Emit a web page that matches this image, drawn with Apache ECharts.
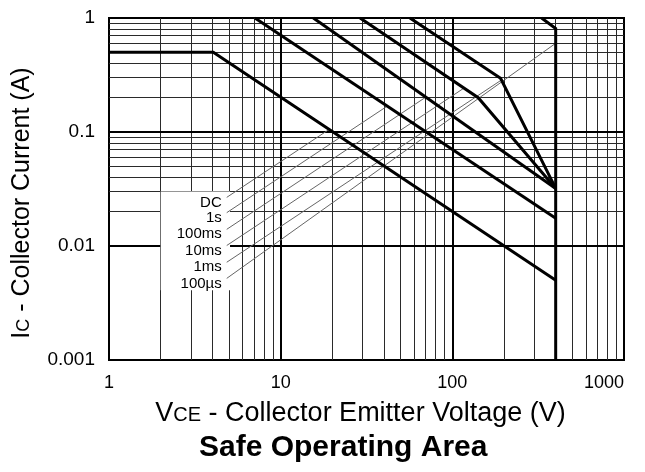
<!DOCTYPE html>
<html><head><meta charset="utf-8">
<script src="https://cdn.jsdelivr.net/npm/echarts@6/dist/echarts.min.js"></script>
<style>html,body{margin:0;padding:0;background:#fff}#c{width:645px;height:472px}</style>
</head><body><div id="c"></div>
<script>
// ---- data ----
const xTickLabels = ['1', '10', '100', '1000'];
const yTickLabels = ['0.001', '0.01', '0.1', '1'];
const xMinor = [2,3,4,5,6,7,8,9,20,30,40,50,60,70,80,90,200,300,400,500,600,700,800,900];
const xMajor = [10, 100];
const yMinor = [0.002,0.003,0.004,0.005,0.006,0.007,0.008,0.009,0.02,0.03,0.04,0.05,0.06,0.07,0.08,0.09,0.2,0.3,0.4,0.5,0.6,0.7,0.8,0.9];
const yMajor = [0.01, 0.1];

const curveNames = ['DC', '1s', '100ms', '10ms', '1ms', '100µs'];
const curveDC    = [[1, 0.5], [4.05, 0.5], [400, 0.005]];
const curve1s    = [[7.08, 1], [400, 0.0175]];
const curve100ms = [[15.5, 1], [400, 0.032]];
const curve10ms  = [[29, 1], [141.5, 0.2], [400, 0.032]];
const curve1ms   = [[56.6, 1], [191, 0.296], [400, 0.032]];
const curve100us = [[331, 1], [400, 0.81], [400, 0.001]];
const curves = [curveDC, curve1s, curve100ms, curve10ms, curve1ms, curve100us];

// leader lines (label anchor -> curve)
const leaderStart = [[4.85, 0.0267], [4.85, 0.0196], [4.85, 0.014], [4.85, 0.0101], [4.85, 0.0072], [4.85, 0.0052]];
const leaderEnd   = [[19.1, 0.105], [41.6, 0.168], [70, 0.202], [118, 0.245], [196, 0.29], [400, 0.6]];

// white box behind the labels
const labelBoxX = [2, 5.07];
const labelBoxY = [0.0041, 0.030];

// ---- chart ----
const FONT = '"Liberation Sans", Arial, sans-serif';
const chart = echarts.init(document.getElementById('c'), null, {renderer: 'canvas'});

const gridLines = [];
xMinor.forEach(v => gridLines.push({xAxis: v, lineStyle: {color: '#2a2a2a', width: 1, type: 'solid'}}));
yMinor.forEach(v => gridLines.push({yAxis: v, lineStyle: {color: '#2a2a2a', width: 1, type: 'solid'}}));
xMajor.forEach(v => gridLines.push({xAxis: v, lineStyle: {color: '#000', width: 2, type: 'solid'}}));
yMajor.forEach(v => gridLines.push({yAxis: v, lineStyle: {color: '#000', width: 2, type: 'solid'}}));

const series = [];
series.push({
  type: 'line', data: [], z: 1, silent: true,
  markLine: {silent: true, z: 1, symbol: ['none', 'none'], label: {show: false}, animation: false,
    lineStyle: {type: 'solid'}, emphasis: {disabled: true}, data: gridLines}
});
series.push({
  type: 'line', data: [], z: 2, silent: true,
  markArea: {silent: true, z: 2, itemStyle: {color: '#fff', opacity: 1, borderWidth: 0}, label: {show: false},
    emphasis: {disabled: true},
    data: [[{coord: [labelBoxX[0], labelBoxY[1]]}, {coord: [labelBoxX[1], labelBoxY[0]]}]]}
});
leaderStart.forEach((s, i) => {
  series.push({
    type: 'line', z: 3, silent: true,
    data: [s, leaderEnd[i]],
    symbol: 'circle', symbolSize: 0, showSymbol: true,
    lineStyle: {color: '#666', width: 1},
    itemStyle: {color: 'rgba(0,0,0,0)'},
    label: {show: true, position: 'left', distance: 5, offset: [0, 5],
      color: '#000', fontSize: 15, fontFamily: FONT,
      formatter: p => p.dataIndex === 0 ? curveNames[i] : ''}
  });
});
curves.forEach((c, i) => {
  series.push({
    type: 'line', z: 4, silent: true, name: curveNames[i],
    data: c, symbol: 'none',
    lineStyle: {color: '#000', width: 3, join: 'miter'}
  });
});

const richTitle = (big, small) => ({
  b: {fontSize: big, fontFamily: FONT, color: '#000', verticalAlign: 'bottom'},
  s: {fontSize: small, fontFamily: FONT, color: '#000', verticalAlign: 'bottom', padding: [0, 0, 2, 0]}
});

chart.setOption({
  animation: false,
  backgroundColor: '#fff',
  graphic: [{
    type: 'text', left: 199, top: 433, z: 10,
    style: {text: 'Safe Operating Area', fill: '#000',
      font: 'bold 30px "Liberation Sans", Arial, sans-serif'}
  }],
  grid: {left: 109, top: 18, width: 515, height: 342, show: true, borderColor: '#000', borderWidth: 2, backgroundColor: '#fff'},
  xAxis: {
    type: 'log', logBase: 10, min: 1, max: 1000,
    axisLine: {show: true, lineStyle: {color: '#000', width: 2}},
    axisTick: {show: false}, splitLine: {show: false},
    axisLabel: {color: '#000', fontSize: 18, fontFamily: FONT, margin: 14,
      alignMaxLabel: 'right',
      formatter: v => xTickLabels[Math.round(Math.log10(v))]},
    name: '{b|V}{s|CE}{b| - Collector Emitter Voltage (V)}',
    nameLocation: 'middle', nameGap: 40,
    nameTextStyle: {color: '#000', fontFamily: FONT, padding: [0, 12, 0, 0], rich: richTitle(27, 20)}
  },
  yAxis: {
    type: 'log', logBase: 10, min: 0.001, max: 1,
    axisLine: {show: true, lineStyle: {color: '#000', width: 2}},
    axisTick: {show: false}, splitLine: {show: false},
    axisLabel: {color: '#000', fontSize: 19, fontFamily: FONT, margin: 14,
      formatter: v => yTickLabels[Math.round(Math.log10(v)) + 3]},
    name: '{b|I}{s|C}{b| - Collector Current (A)}',
    nameLocation: 'middle', nameGap: 74, nameRotate: 90,
    nameTextStyle: {color: '#000', fontFamily: FONT, padding: [0, 28, 0, 0], rich: richTitle(25, 18)}
  },
  series: series
});
</script>
</body></html>
